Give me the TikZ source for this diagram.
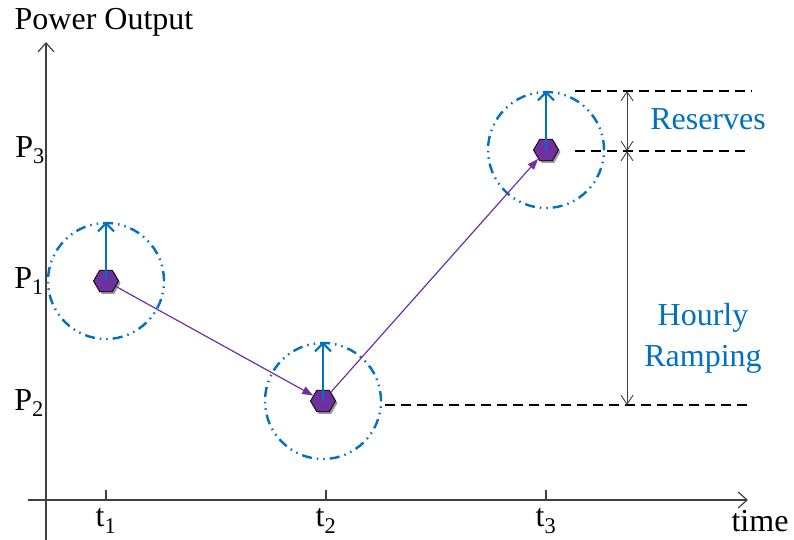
\documentclass[tikz,border=0pt]{standalone}
\usepackage{fontspec}
\setmainfont{Liberation Serif}
\usetikzlibrary{arrows.meta,positioning,shapes.geometric,shadows}
\definecolor{resblue}{HTML}{0070C0}
\definecolor{genpurple}{HTML}{7030A0}

\begin{document}
\begin{tikzpicture}[
  x=1pt, y=-1pt,
  font=\fontsize{32}{40}\selectfont,
  axis/.style={line width=1.2pt, draw=black!75, -{Straight Barb[length=9pt,width=16pt]}},
  gen/.style={regular polygon, regular polygon sides=6, draw, fill=genpurple, minimum size=25pt, inner sep=0pt, line width=0.8pt,
    drop shadow={shadow xshift=2pt, shadow yshift=-2pt, fill=black!40, opacity=1}},
  zone/.style={circle, draw=resblue, line width=2.4pt, minimum size=116pt, inner sep=0pt,
    dash pattern=on 10pt off 5pt on 1.5pt off 5pt on 1.5pt off 5pt},
  res/.style={draw=resblue, line width=2.2pt, -{Straight Barb[length=8pt,width=16pt]}},
  ramp/.style={draw=genpurple, line width=1.2pt, -{Triangle[length=11pt,width=8pt]}},
  level/.style={line width=1.2pt, dash pattern=on 10pt off 6pt},
  span/.style={line width=0.9pt, draw=black!75, {Straight Barb[length=9pt,width=12pt]}-{Straight Barb[length=9pt,width=12pt]}},
  lbl/.style={text=resblue, align=center}
]
\useasboundingbox (0,0) rectangle (794,540);

% ================= Axes =================
\coordinate (yfoot) at (46,540);
\coordinate (ytop) at (46,42);
\coordinate (xfoot) at (28,500);
\coordinate (xtop) at (748,500);
\draw[axis] (yfoot) -- (ytop);
\draw[axis] (xfoot) -- (xtop);
\node (ylab) at (104,22) {Power Output};
\node (xlab) at (760,521) {time};

\foreach \i/\x in {1/106,2/326,3/546}{
  \draw[line width=1.2pt, draw=black!75] (\x,490) -- (\x,500);
  \node (t\i) at (\x,521) {t\textsubscript{\i}};
}

\node (P3) at (30,150) {P\textsubscript{3}};
\node (P1) at (29,281) {P\textsubscript{1}};
\node (P2) at (29,403) {P\textsubscript{2}};

% ================= Reserve zones =================
\node[zone] (c1) at (106,281) {};
\node[zone] (c2) at (323,401) {};
\node[zone] (c3) at (546,150) {};

% ================= Dispatch points =================
\node[gen] (h1) at (106,281) {};
\node[gen] (h2) at (323,401) {};
\node[gen] (h3) at (546,150) {};

\draw[ramp] (h1) -- (h2);
\draw[ramp] (h2) -- (h3);

\draw[res] (h1.center) -- (c1.north);
\draw[res] (h2.center) -- (c2.north);
\draw[res] (h3.center) -- (c3.north);

% ================= Levels =================
\coordinate (top0) at (575,91);
\coordinate (top1) at (752,91);
\coordinate (mid0) at (575,151);
\coordinate (mid1) at (748,151);
\coordinate (low0) at (385,405);
\coordinate (low1) at (748,405);
\draw[level] (top0) -- (top1);
\draw[level] (mid0) -- (mid1);
\draw[level] (low0) -- (low1);

\coordinate (stop) at (627,91);
\coordinate (smid) at (627,151);
\coordinate (sbot) at (627,405);
\draw[span] (stop) -- (smid);
\draw[span] (smid) -- (sbot);

\node[lbl] (reserves) at (708,119) {Reserves};
\node[lbl, font=\fontsize{32}{41}\selectfont] (ramping) at (703,338) {Hourly\\Ramping};

\end{tikzpicture}
\end{document}
